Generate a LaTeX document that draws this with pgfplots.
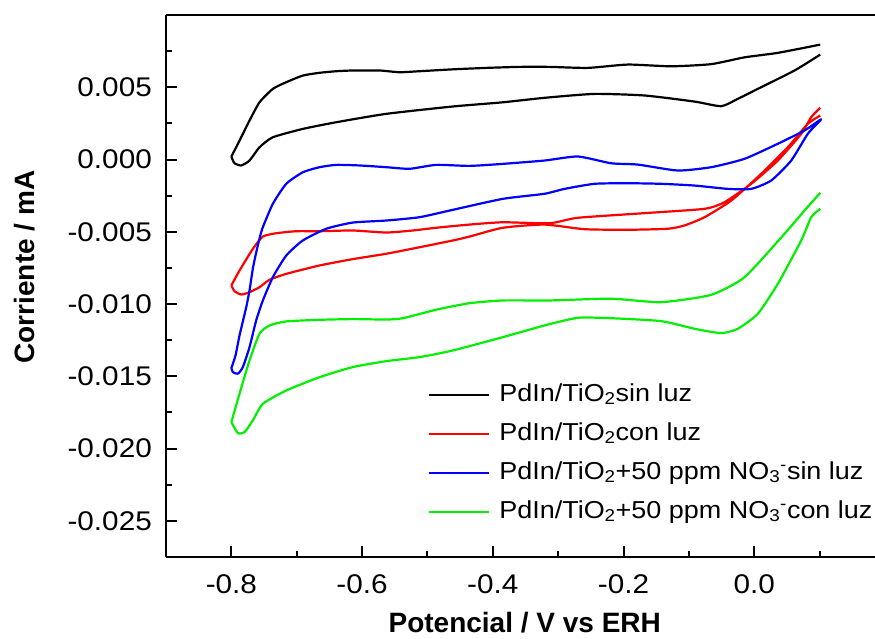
\documentclass[border=0pt]{standalone}
\usepackage{fontspec}
\setmainfont{Liberation Sans}
\newfontfamily\tickfont[FakeStretch=1.1]{Liberation Sans}
\usepackage{pgfplots}
\pgfplotsset{compat=1.18}

\definecolor{cvgreen}{RGB}{0,240,0}

\begin{document}
\begin{tikzpicture}
\begin{axis}[
  scale only axis,
  width=709pt, height=542pt,
  xmin=-0.9, xmax=0.1848,
  ymin=-0.0275, ymax=0.010,
  axis x line=box, axis y line*=left,
  axis line style={-, line width=2.4pt},
  tick align=inside,
  xtick pos=bottom, ytick pos=left,
  xtick={-0.8,-0.6,-0.4,-0.2,0.0},
  ytick={-0.025,-0.020,-0.015,-0.010,-0.005,0.000,0.005},
  minor xtick={-0.9,-0.7,-0.5,-0.3,-0.1,0.1},
  minor ytick={-0.0275,-0.0225,-0.0175,-0.0125,-0.0075,-0.0025,0.0025,0.0075},
  major tick length=11pt, minor tick length=6pt,
  every tick/.style={line width=2pt, black},
  scaled x ticks=false, scaled y ticks=false,
  unbounded coords=jump,
  /pgf/number format/assume math mode=true,
  xticklabel style={/pgf/number format/.cd, fixed, fixed zerofill, precision=1, /tikz/.cd,
    font=\tickfont\fontsize{27}{30}\selectfont, inner sep=0pt, anchor=north, yshift=-17pt},
  yticklabel style={/pgf/number format/.cd, fixed, fixed zerofill, precision=3, /tikz/.cd,
    font=\tickfont\fontsize{27}{30}\selectfont, inner sep=0pt, anchor=east, xshift=-14pt},
  xlabel={Potencial / V vs ERH},
  ylabel={Corriente / mA},
  xlabel style={font=\fontsize{28}{30}\selectfont\bfseries, at={(axis description cs:0.506,-0.139)}, anchor=base},
  ylabel style={font=\fontsize{28}{30}\selectfont\bfseries, at={(axis description cs:-0.1848,0.535)}, anchor=base},
  legend cell align=left,
  legend style={draw=none, fill=none, at={(axis description cs:0.3695,0.321)}, anchor=north west,
    inner sep=0pt, font=\tickfont\fontsize{24.5}{28}\selectfont, row sep=15pt,
    nodes={inner sep=0pt, text height=18pt, text depth=6pt}},
  /tikz/every odd column/.append style={column sep=9pt},
  legend image code/.code={\draw[#1, line width=2.2pt] (0pt,0pt) -- (60pt,0pt);},
  every axis plot/.append style={line width=2.2pt, line join=round, no marks, smooth, tension=0.35},
]
\coordinate (sw) at (rel axis cs:0,0);
\coordinate (ne) at (rel axis cs:1,1);

% PdIn/TiO2 sin luz
\addplot[black] coordinates {
(-0.800,0.0002) (-0.7875,0.00131) (-0.7722,0.00270) (-0.7569,0.00396) (-0.7365,0.00489)
(-0.7160,0.00535) (-0.6906,0.00581) (-0.6651,0.00600) (-0.6395,0.00611) (-0.6141,0.00616)
(-0.5733,0.00616) (-0.5427,0.00604) (-0.5121,0.00611) (-0.4611,0.00624) (-0.4100,0.00634)
(-0.3591,0.00641) (-0.3132,0.00641) (-0.2546,0.00634) (-0.1934,0.00657) (-0.1270,0.00645)
(-0.0658,0.00660) (-0.0148,0.00707) (0.0361,0.00738) (0.1010,0.00795)
(0.1010,nan)
(0.1010,0.00726) (0.0617,0.00616) (0.0055,0.00489) (-0.0251,0.00420) (-0.0505,0.00369)
(-0.0913,0.00401) (-0.1678,0.00443) (-0.2443,0.00454) (-0.3208,0.00427) (-0.3846,0.00396)
(-0.4611,0.00367) (-0.5630,0.00316) (-0.6395,0.00258) (-0.6906,0.00212) (-0.7365,0.00154)
(-0.7569,0.00085) (-0.7722,-0.00007) (-0.7849,-0.00041) (-0.7951,-0.00026) (-0.800,0.0002)
};
\addlegendentry{PdIn/TiO\textsubscript{2}sin luz}

% PdIn/TiO2 con luz
\addplot[red] coordinates {
(-0.800,-0.00871) (-0.7875,-0.00768) (-0.7671,-0.00618) (-0.7518,-0.00533) (-0.7313,-0.00510)
(-0.7007,-0.00496) (-0.6651,-0.00496) (-0.6141,-0.00491) (-0.5630,-0.00505) (-0.5223,-0.00491)
(-0.4865,-0.00472) (-0.4356,-0.00450) (-0.3846,-0.00434) (-0.3132,-0.00441) (-0.2699,-0.00403)
(-0.1678,-0.00371) (-0.0760,-0.00341) (-0.0454,-0.00295) (-0.0046,-0.00168) (0.0361,-0.00007)
(0.0719,0.00178) (0.0872,0.00293) (0.1010,0.00358)
(0.1010,nan)
(0.1010,0.00304) (0.0820,0.00247) (0.0514,0.00085) (0.0107,-0.00099) (-0.0352,-0.00284)
(-0.0760,-0.00399) (-0.1066,-0.00456) (-0.1322,-0.00479) (-0.1934,-0.00486) (-0.2597,-0.00482)
(-0.3209,-0.00450) (-0.3846,-0.00472) (-0.4356,-0.00533) (-0.4611,-0.00560) (-0.5121,-0.00607)
(-0.5630,-0.00652) (-0.6141,-0.00689) (-0.6651,-0.00733) (-0.7160,-0.00791) (-0.7416,-0.00832)
(-0.7569,-0.00883) (-0.7722,-0.00918) (-0.7849,-0.00934) (-0.7951,-0.00911) (-0.800,-0.00871)
};
\addlegendentry{PdIn/TiO\textsubscript{2}con luz}

% PdIn/TiO2 + NO3 sin luz
\addplot[blue] coordinates {
(-0.800,-0.01443) (-0.7936,-0.01355) (-0.7875,-0.01217) (-0.7772,-0.01021) (-0.7722,-0.00906)
(-0.7671,-0.00754) (-0.7620,-0.00643) (-0.7569,-0.00546) (-0.7518,-0.00468) (-0.7365,-0.00306)
(-0.7160,-0.00168) (-0.6906,-0.00088) (-0.6651,-0.00053) (-0.6395,-0.00037) (-0.6039,-0.00041)
(-0.5630,-0.00053) (-0.5274,-0.00064) (-0.4865,-0.00037) (-0.4356,-0.00044) (-0.3846,-0.00030)
(-0.3209,-0.00007) (-0.2699,0.00021) (-0.2188,-0.00026) (-0.1781,-0.00035) (-0.1169,-0.00076)
(-0.0658,-0.00053) (-0.0148,0.00005) (0.0361,0.00109) (0.0769,0.00201) (0.1010,0.00275)
(0.1010,0.00270) (0.0820,0.00178) (0.0566,-0.00007) (0.0260,-0.00145) (-0.0046,-0.00203)
(-0.0404,-0.00203) (-0.0913,-0.00180) (-0.1423,-0.00168) (-0.1934,-0.00164) (-0.2443,-0.00168)
(-0.2902,-0.00203) (-0.3209,-0.00237) (-0.3846,-0.00272) (-0.4611,-0.00348) (-0.5121,-0.00399)
(-0.5630,-0.00422) (-0.6141,-0.00436) (-0.6548,-0.00479) (-0.6906,-0.00560) (-0.7160,-0.00664)
(-0.7365,-0.00814) (-0.7518,-0.00975) (-0.7620,-0.01113) (-0.7722,-0.01298) (-0.7824,-0.01436)
(-0.7900,-0.01482) (-0.7977,-0.01471) (-0.800,-0.01443)
};
\addlegendentry{PdIn/TiO\textsubscript{2}+50 ppm NO\textsubscript{3}\textsuperscript{-}sin luz}

% PdIn/TiO2 + NO3 con luz
\addplot[cvgreen] coordinates {
(-0.800,-0.01817) (-0.7875,-0.01620) (-0.7722,-0.01390) (-0.7569,-0.01205) (-0.7416,-0.01148)
(-0.7160,-0.01120) (-0.6651,-0.01109) (-0.6141,-0.01104) (-0.5630,-0.01107) (-0.5376,-0.01098)
(-0.4865,-0.01039) (-0.4356,-0.00994) (-0.3846,-0.00975) (-0.3132,-0.00975) (-0.2188,-0.00963)
(-0.1423,-0.00987) (-0.0658,-0.00936) (-0.0148,-0.00814) (0.0463,-0.00514) (0.0769,-0.00353)
(0.1010,-0.00230)
(0.1010,nan)
(0.1010,-0.00341) (0.0872,-0.00399) (0.0719,-0.00560) (0.0361,-0.00860) (0.0055,-0.01067)
(-0.0251,-0.01171) (-0.0505,-0.01201) (-0.0913,-0.01171) (-0.1423,-0.01118) (-0.2188,-0.01098)
(-0.2699,-0.01095) (-0.3209,-0.01148) (-0.3846,-0.01229) (-0.4611,-0.01321) (-0.5121,-0.01367)
(-0.5630,-0.01395) (-0.6141,-0.01436) (-0.6651,-0.01506) (-0.7160,-0.01598) (-0.7518,-0.01690)
(-0.7671,-0.01805) (-0.7798,-0.01886) (-0.7900,-0.01893) (-0.800,-0.01817)
};
\addlegendentry{PdIn/TiO\textsubscript{2}+50 ppm NO\textsubscript{3}\textsuperscript{-}con luz}
\end{axis}
\pgfresetboundingbox
\path[use as bounding box] ([xshift=-166pt,yshift=-82pt]sw) rectangle ([yshift=15pt]ne);
\end{tikzpicture}
\end{document}
